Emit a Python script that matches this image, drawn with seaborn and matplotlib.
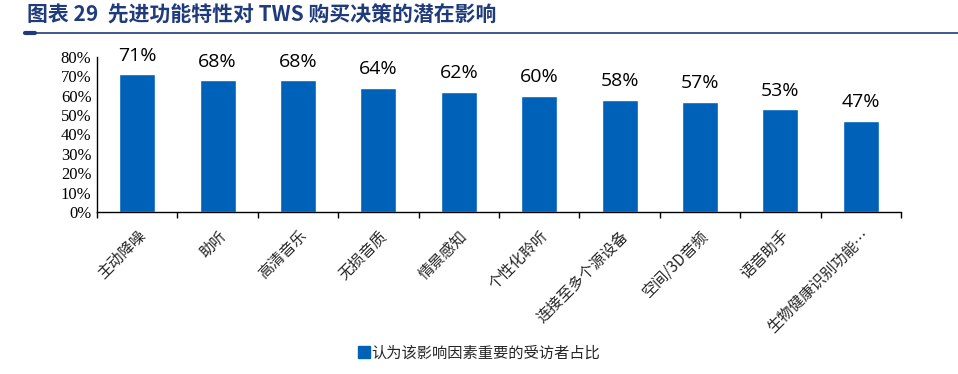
import matplotlib
matplotlib.use("Agg")
import matplotlib.pyplot as plt
import seaborn as sns
import pandas as pd
from matplotlib.ticker import PercentFormatter
from matplotlib.lines import Line2D

categories = ["主动降噪", "助听", "高清音乐", "无损音质", "情景感知", "个性化聆听",
              "连接至多个源设备", "空间/3D音频", "语音助手", "生物健康识别功能…"]
values = [71, 68, 68, 64, 62, 60, 58, 57, 53, 47]
value_labels = ["71%", "68%", "68%", "64%", "62%", "60%", "58%", "57%", "53%", "47%"]
series_name = "认为该影响因素重要的受访者占比"
title = "图表 29  先进功能特性对 TWS 购买决策的潜在影响"

sns.set_theme(style="white")
plt.rcParams['font.family'] = ['Noto Sans CJK SC', 'DejaVu Sans']

df = pd.DataFrame({"cat": categories, "val": values})
color = "#0061B9"

fig = plt.figure(figsize=(9.58, 3.74), dpi=100)
ax = fig.add_axes([97/958, 1 - 212/374, (901-97)/958, (212-57)/374])
sns.barplot(data=df, x="cat", y="val", color=color, width=0.45, ax=ax, saturation=1)

ax.set_ylim(0, 80)
ax.set_xlim(-0.5, len(categories) - 0.5)
ax.set_yticks(range(0, 81, 10))
ax.yaxis.set_major_formatter(PercentFormatter(decimals=0))
for lab in ax.get_yticklabels():
    lab.set_family(['Liberation Serif'])
    lab.set_fontsize(12)
ax.tick_params(axis='y', length=0, pad=4, colors='black')
ax.set_xticks([i + 0.5 for i in range(-1, len(categories))], minor=True)
ax.set_xticks(range(len(categories)))
ax.set_xticklabels(categories, rotation=45, ha='right', rotation_mode='anchor', fontsize=11)
ax.tick_params(axis='x', which='major', length=0, pad=11)
ax.tick_params(axis='x', which='minor', length=4, width=1, direction='out', color='black', bottom=True)
ax.set_xlabel("")
ax.set_ylabel("")
for s in ["top", "right"]:
    ax.spines[s].set_visible(False)
for s in ["left", "bottom"]:
    ax.spines[s].set_color("black")
    ax.spines[s].set_linewidth(1)

for i, (v, t) in enumerate(zip(values, value_labels)):
    ax.text(i, v + 5, t, ha='center', va='bottom', fontsize=14, family=['Open Sans'], color='black')

# title
fig.text(27/958, 1 - 15/374, title, ha='left', va='center', fontsize=15, fontweight='bold', color='#1F3B7C')
fig.add_artist(Line2D([25/958, 1.0], [1 - 33/374, 1 - 33/374], color='#1F3B7C', lw=1.2, transform=fig.transFigure))
fig.add_artist(Line2D([25/958, 35/958], [1 - 33/374, 1 - 33/374], color='#1F3B7C', lw=3, transform=fig.transFigure))

# legend
handle = Line2D([], [], marker='s', linestyle='', markersize=8, color=color)
fig.legend([handle], [series_name], loc='center', bbox_to_anchor=(0.5, 1 - 353/374), frameon=False,
           fontsize=11, handletextpad=0.1, handlelength=0.8)

fig.savefig("out.png", dpi=100)
